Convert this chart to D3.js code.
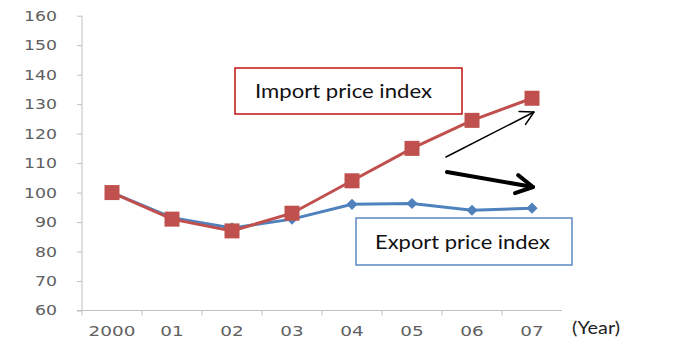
<!DOCTYPE html>
<html lang="en">
<head>
<meta charset="UTF-8">
<title>Price index</title>
<script src="https://d3js.org/d3.v7.min.js"></script>
<style>
  body { margin: 0; background: #fff; }
  svg { display: block; }
</style>
</head>
<body>
<div id="chart"></div>
<script>
// data
const years = ["2000", "01", "02", "03", "04", "05", "06", "07"];
const importIndex = [100, 91, 87, 93, 104, 115, 124.5, 132];
const exportIndex = [100, 91.5, 88, 91, 96, 96.3, 94, 94.7];
const yTicks = [60, 70, 80, 90, 100, 110, 120, 130, 140, 150, 160];

const width = 683, height = 343;
const svg = d3.select("#chart").append("svg")
    .attr("width", width)
    .attr("height", height);

const x = d3.scaleBand()
    .domain(years)
    .range([82, 562]);

const y = d3.scaleLinear()
    .domain([60, 160])
    .range([310.5, 15.7]);

// labels are drawn wide, like the stretched original
const digitW = 11;

// y axis
const yAxis = svg.append("g")
    .attr("transform", "translate(82,0)")
    .call(d3.axisLeft(y).tickValues(yTicks).tickSize(5).tickPadding(20));
yAxis.select(".domain").attr("stroke", "#c0c0c0").attr("d", `M0,${y(60)}V${y(160)}`);
yAxis.selectAll(".tick line").attr("stroke", "#c0c0c0");
yAxis.selectAll("text")
    .attr("fill", "#606060")
    .attr("textLength", d => String(d).length * digitW)
    .attr("lengthAdjust", "spacingAndGlyphs")
    .style("font-family", "DejaVu Sans")
    .style("font-size", "14px");

// x axis
const xAxis = svg.append("g")
    .attr("transform", `translate(0,${y(60)})`)
    .call(d3.axisBottom(x).tickSize(0).tickPadding(16));
xAxis.select(".domain").attr("stroke", "#c0c0c0").attr("d", `M77,0H562`);
xAxis.selectAll(".tick line").remove();
// tick marks between categories
xAxis.selectAll(".sep")
    .data(years)
    .enter().append("line")
    .attr("x1", d => x(d)).attr("x2", d => x(d))
    .attr("y1", 0).attr("y2", 5)
    .attr("stroke", "#c0c0c0");
xAxis.selectAll(".tick text")
    .attr("fill", "#606060")
    .attr("textLength", d => d.length * 11.7)
    .attr("lengthAdjust", "spacingAndGlyphs")
    .style("font-family", "DejaVu Sans")
    .style("font-size", "14px");

svg.append("text")
    .attr("x", 572).attr("y", 334)
    .attr("textLength", 48).attr("lengthAdjust", "spacingAndGlyphs")
    .attr("fill", "#222")
    .style("font-family", "Lato, sans-serif")
    .style("font-size", "17px")
    .text("(Year)");

const cx = d => x(d) + x.bandwidth() / 2;
const line = d3.line()
    .x((d, i) => cx(years[i]))
    .y(d => y(d));

// export series
svg.append("path")
    .datum(exportIndex)
    .attr("fill", "none")
    .attr("stroke", "#4f81bd")
    .attr("stroke-width", 3)
    .attr("d", line);
svg.selectAll(".dia")
    .data(exportIndex)
    .enter().append("path")
    .attr("d", d3.symbol().type(d3.symbolDiamond2).size(80))
    .attr("transform", (d, i) => `translate(${cx(years[i])},${y(d)})`)
    .attr("fill", "#4f81bd");

// import series
svg.append("path")
    .datum(importIndex)
    .attr("fill", "none")
    .attr("stroke", "#c0504d")
    .attr("stroke-width", 3)
    .attr("d", line);
svg.selectAll(".sq")
    .data(importIndex)
    .enter().append("rect")
    .attr("x", (d, i) => cx(years[i]) - 7.5)
    .attr("y", d => y(d) - 7.5)
    .attr("width", 15).attr("height", 15)
    .attr("fill", "#c0504d");

// callout boxes
svg.append("rect")
    .attr("x", 235).attr("y", 68).attr("width", 227).attr("height", 46)
    .attr("fill", "#fff").attr("stroke", "#c00000").attr("stroke-width", 1.4);
svg.append("text")
    .attr("x", 255).attr("y", 97.5)
    .attr("textLength", 177).attr("lengthAdjust", "spacingAndGlyphs")
    .attr("fill", "#111")
    .style("font-family", "Lato, sans-serif")
    .style("font-size", "20px")
    .text("Import price index");

svg.append("rect")
    .attr("x", 356).attr("y", 218).attr("width", 216).attr("height", 47)
    .attr("fill", "#fff").attr("stroke", "#4f81bd").attr("stroke-width", 1.4);
svg.append("text")
    .attr("x", 375).attr("y", 249)
    .attr("textLength", 175).attr("lengthAdjust", "spacingAndGlyphs")
    .attr("fill", "#111")
    .style("font-family", "Lato, sans-serif")
    .style("font-size", "20px")
    .text("Export price index");

// arrows
function arrow(x1, y1, x2, y2, w, head) {
    const a = Math.atan2(y2 - y1, x2 - x1);
    const g = svg.append("g").attr("stroke", "#000").attr("fill", "none")
        .attr("stroke-width", w).attr("stroke-linecap", "round").attr("stroke-linejoin", "round");
    g.append("line").attr("x1", x1).attr("y1", y1).attr("x2", x2).attr("y2", y2);
    const p = [-0.5, 0.5].map(s => [x2 - head * Math.cos(a + s), y2 - head * Math.sin(a + s)]);
    g.append("path").attr("d", `M${p[0]}L${x2},${y2}L${p[1]}`);
}
arrow(446, 157, 534, 112, 1.5, 15);
arrow(447, 172, 533, 187, 4, 19);
</script>
</body>
</html>
